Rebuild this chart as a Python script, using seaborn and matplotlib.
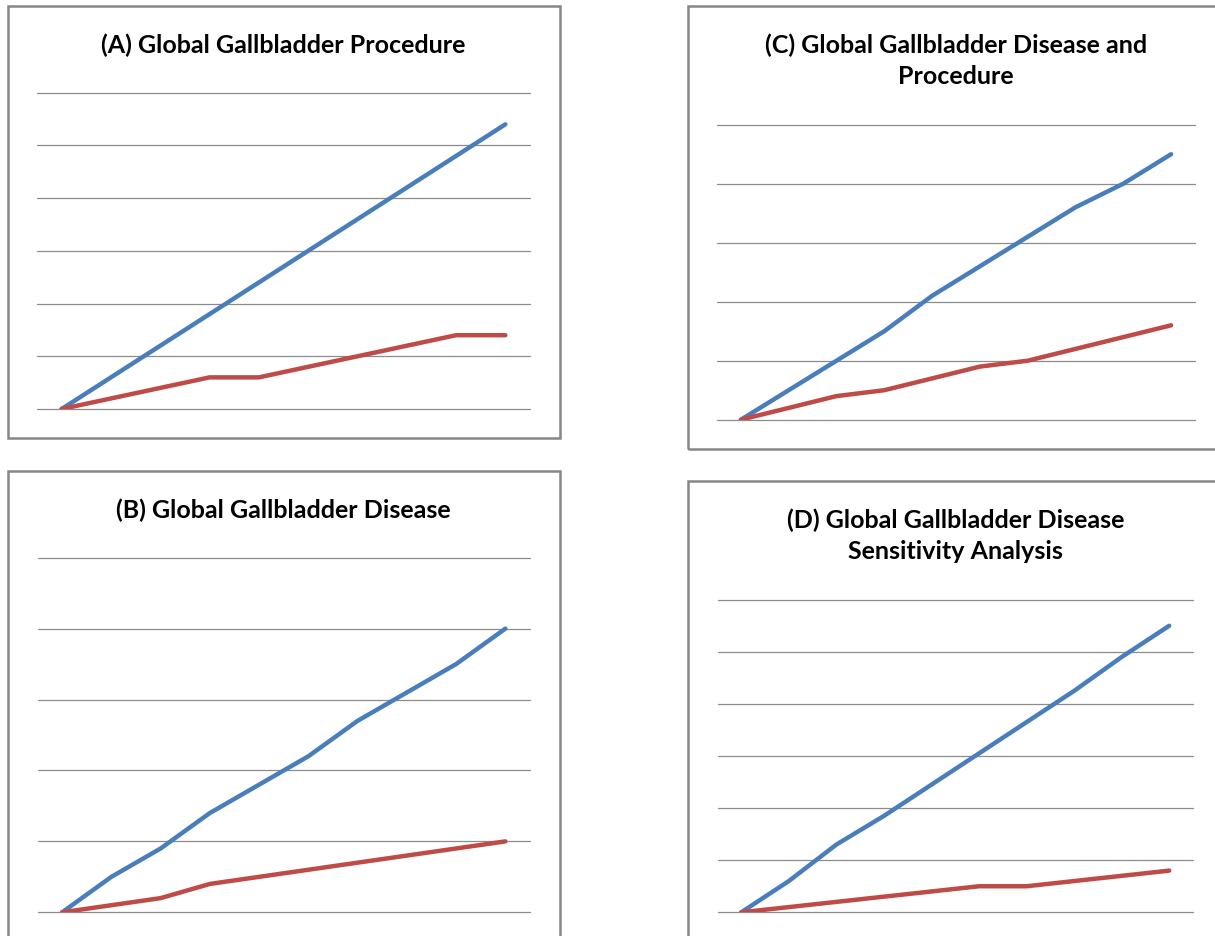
import numpy as np
import pandas as pd
import seaborn as sns
import matplotlib.pyplot as plt
from matplotlib.patches import Rectangle

sns.set_theme(style="white")
plt.rcParams['font.family'] = ['Lato', 'DejaVu Sans']

# data (in gridline units)
steps = list(range(10))
series = ["upper", "lower"]

a_blue = [0, 0.6, 1.2, 1.8, 2.4, 3.0, 3.6, 4.2, 4.8, 5.4]
a_red = [0, 0.2, 0.4, 0.6, 0.6, 0.8, 1.0, 1.2, 1.4, 1.4]

b_blue = [0, 0.5, 0.9, 1.4, 1.8, 2.2, 2.7, 3.1, 3.5, 4.0]
b_red = [0, 0.1, 0.2, 0.4, 0.5, 0.6, 0.7, 0.8, 0.9, 1.0]

c_blue = [0, 0.5, 1.0, 1.5, 2.1, 2.6, 3.1, 3.6, 4.0, 4.5]
c_red = [0, 0.2, 0.4, 0.5, 0.7, 0.9, 1.0, 1.2, 1.4, 1.6]

d_blue = [0, 0.6, 1.3, 1.85, 2.45, 3.05, 3.65, 4.25, 4.9, 5.5]
d_red = [0, 0.1, 0.2, 0.3, 0.4, 0.5, 0.5, 0.6, 0.7, 0.8]

titles = ["(A) Global Gallbladder Procedure",
          "(B) Global Gallbladder Disease",
          "(C) Global Gallbladder Disease and\nProcedure",
          "(D) Global Gallbladder Disease\nSensitivity Analysis"]
ymax = [6, 5, 5, 6]

W, H = 1215, 937
fig = plt.figure(figsize=(W / 100, H / 100), dpi=100)

# layout in pixels: frame box, plot area, title y
frames = [(8, 7, 560, 439), (8, 472, 560, 945), (688, 7, 1225, 450), (688, 482, 1225, 945)]
plots = [(37, 93.7, 530, 410), (37.5, 558.7, 530, 913.3), (717, 125.7, 1195, 420.7), (717.5, 600.7, 1193, 913.3)]
title_y = [45, 510, 61, 536]

palette = {"upper": "#4A7EBB", "lower": "#BE4B48"}
panels = [(a_blue, a_red), (b_blue, b_red), (c_blue, c_red), (d_blue, d_red)]

for i, (blue, red) in enumerate(panels):
    x0, y0, x1, y1 = frames[i]
    fig.patches.append(Rectangle((x0 / W, 1 - y1 / H), (x1 - x0) / W, (y1 - y0) / H,
                                 transform=fig.transFigure, fill=False,
                                 edgecolor="#878787", linewidth=1.8))
    px0, py0, px1, py1 = plots[i]
    ax = fig.add_axes([px0 / W, 1 - py1 / H, (px1 - px0) / W, (py1 - py0) / H])
    df = pd.DataFrame({"step": steps * 2,
                       "value": blue + red,
                       "series": [series[0]] * 10 + [series[1]] * 10})
    sns.lineplot(data=df, x="step", y="value", hue="series", palette=palette,
                 linewidth=3.2, legend=False, ax=ax, solid_capstyle="round")
    ax.set_xlim(-0.5, 9.5)
    ax.set_ylim(0, ymax[i])
    ax.set_yticks(range(ymax[i] + 1))
    ax.set_xticks([])
    ax.set_yticklabels([])
    ax.tick_params(left=False, bottom=False)
    ax.set_xlabel("")
    ax.set_ylabel("")
    for s in ax.spines.values():
        s.set_visible(False)
    ax.grid(axis="y", color="#8C8C8C", linewidth=0.9)
    ax.set_axisbelow(True)
    for gl in ax.get_ygridlines():
        gl.set_clip_on(False)
    cx = (px0 + px1) / 2
    fig.text(cx / W, 1 - title_y[i] / H, titles[i], ha="center", va="center",
             fontsize=18, fontweight="bold", color="black", linespacing=1.42)

fig.savefig("out.png", dpi=100)
